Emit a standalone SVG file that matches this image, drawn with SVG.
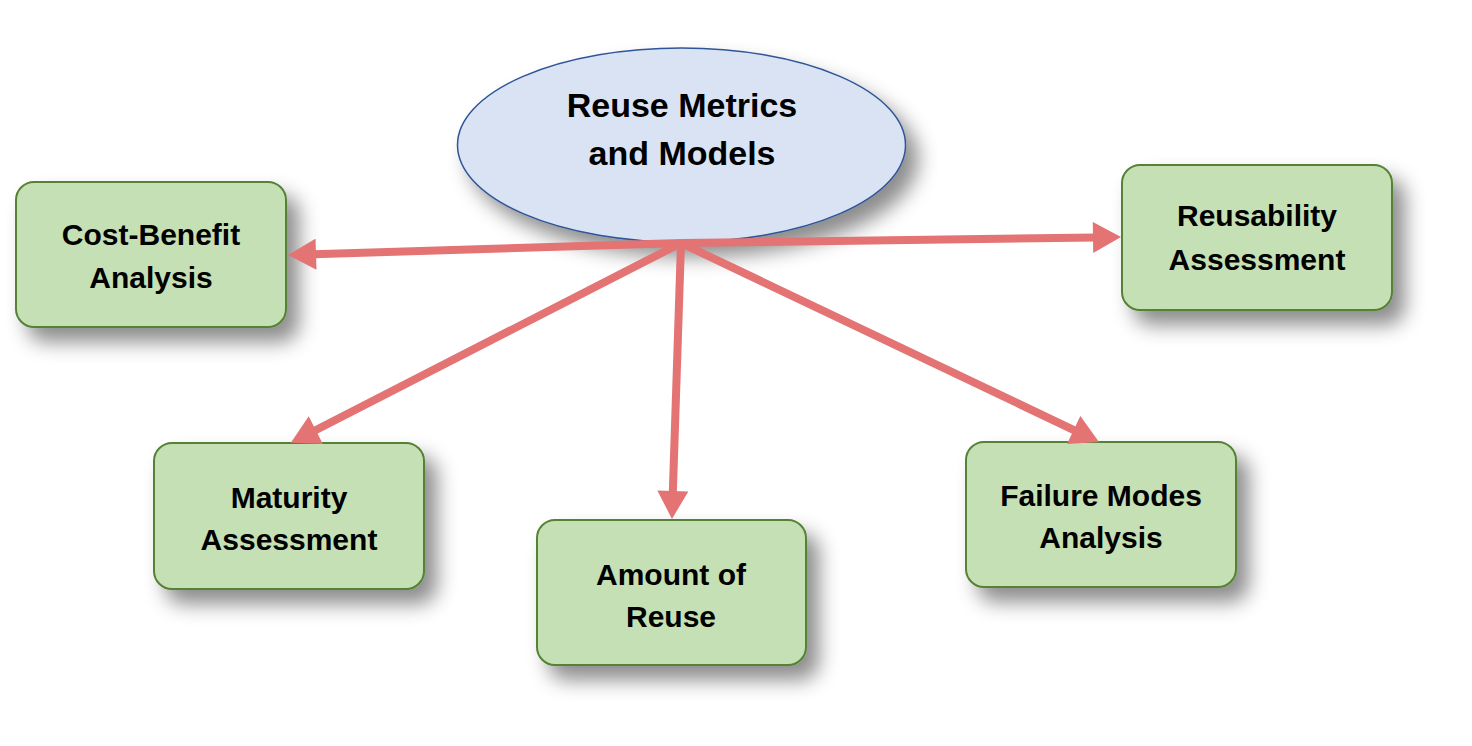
<svg xmlns="http://www.w3.org/2000/svg" width="1472" height="746" viewBox="0 0 1472 746">
<defs>
<filter id="sh" x="-20%" y="-20%" width="160%" height="180%">
<feDropShadow dx="12" dy="14" stdDeviation="10" flood-color="#000" flood-opacity="0.45"/>
</filter>
<marker id="ah" markerUnits="userSpaceOnUse" markerWidth="30" markerHeight="31" viewBox="0 0 28 31" refX="2" refY="15.5" orient="auto">
<path d="M0,0 L28,15.5 L0,31 z" fill="#E47373"/>
</marker>
</defs>
<style>
.box{fill:#C5E0B4;stroke:#548235;stroke-width:2}
.ell{fill:#DAE3F3;stroke:#2F5597;stroke-width:1.5}
.t{font-family:"Liberation Sans",Arial,sans-serif;font-weight:bold;font-size:30px;fill:#000;text-anchor:middle}
.tb{font-size:34px}
.c{stroke:#E47373;stroke-width:8;fill:none;marker-end:url(#ah)}
</style>
<rect width="1472" height="746" fill="#fff"/>
<g id="center">
<ellipse class="ell" cx="681.500" cy="145" rx="224" ry="97" filter="url(#sh)"/>
<text class="t tb" x="682" y="117">Reuse Metrics</text>
<text class="t tb" x="682" y="165">and Models</text>
</g>
<g id="cost-benefit">
<rect class="box" x="16" y="182" width="270" height="145" rx="18" filter="url(#sh)"/>
<text class="t" x="151" y="245">Cost-Benefit</text>
<text class="t" x="151" y="288">Analysis</text>
</g>
<g id="reusability">
<rect class="box" x="1122" y="165" width="270" height="145" rx="18" filter="url(#sh)"/>
<text class="t" x="1257" y="226">Reusability</text>
<text class="t" x="1257" y="270">Assessment</text>
</g>
<g id="maturity">
<rect class="box" x="154" y="443" width="270" height="146" rx="18" filter="url(#sh)"/>
<text class="t" x="289" y="508">Maturity</text>
<text class="t" x="289" y="550">Assessment</text>
</g>
<g id="amount">
<rect class="box" x="537" y="520" width="269" height="145" rx="18" filter="url(#sh)"/>
<text class="t" x="671" y="585">Amount of</text>
<text class="t" x="671" y="627">Reuse</text>
</g>
<g id="failure">
<rect class="box" x="966" y="442" width="270" height="145" rx="18" filter="url(#sh)"/>
<text class="t" x="1101" y="506">Failure Modes</text>
<text class="t" x="1101" y="548">Analysis</text>
</g>
<g id="connectors">
<line class="c" x1="681" y1="243" x2="314" y2="254.2"/>
<line class="c" x1="681" y1="243" x2="1095" y2="237.4"/>
<line class="c" x1="681" y1="243" x2="314" y2="431"/>
<line class="c" x1="681" y1="243" x2="672.8" y2="493"/>
<line class="c" x1="681" y1="243" x2="1075.5" y2="430.8"/>
</g>
</svg>
